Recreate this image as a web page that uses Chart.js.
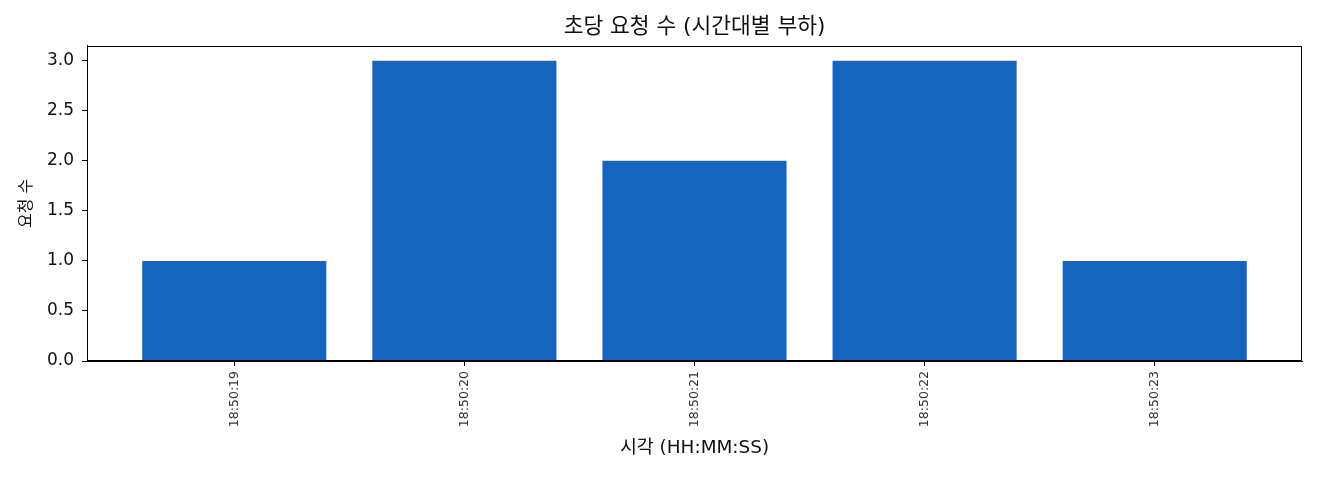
<!DOCTYPE html>
<html><head><meta charset="utf-8">
<script src="https://cdn.jsdelivr.net/npm/chart.js@4/dist/chart.umd.min.js"></script>
<style>html,body{margin:0;padding:0;background:#fff}#wrap{width:1320px;height:480px}</style>
</head><body><div id="wrap"><canvas id="c" width="1320" height="480"></canvas></div>
<script>
const categories = ["18:50:19", "18:50:20", "18:50:21", "18:50:22", "18:50:23"];
const requests = [1, 3, 2, 3, 1];
const yTicks = [0, 0.5, 1.0, 1.5, 2.0, 2.5, 3.0];

const FONT = "'DejaVu Sans', 'Noto Sans CJK KR', sans-serif";
const frame = {
  id: 'frame',
  afterDatasetsDraw(chart) {
    const a = chart.chartArea, ctx = chart.ctx;
    ctx.save();
    ctx.strokeStyle = '#000'; ctx.lineWidth = 1;
    ctx.strokeRect(Math.round(a.left) + 0.5, Math.round(a.top) + 0.5, Math.round(a.right - a.left) - 1, Math.round(a.bottom - a.top) - 1);
    ctx.restore();
  }
};
new Chart(document.getElementById('c'), {
  type: 'bar',
  data: {
    datasets: [{
      data: requests.map((v, i) => ({x: i, y: v})),
      backgroundColor: '#1565C0',
      borderWidth: 0,
      barPercentage: 0.8,
      categoryPercentage: 1.0
    }]
  },
  options: {
    responsive: false,
    animation: false,
    devicePixelRatio: 1,
    layout: {padding: {left: 0, right: 18, top: 0, bottom: 0}},
    plugins: {
      legend: {display: false},
      tooltip: {enabled: false},
      title: {display: true, fullSize: false, text: '초당 요청 수 (시간대별 부하)', color: '#111',
        font: {family: FONT, size: 21.5, weight: 'normal', lineHeight: 1.2}, padding: {top: 15, bottom: 5}}
    },
    scales: {
      x: {
        type: 'linear', min: -0.64, max: 4.64, offset: false,
        afterBuildTicks: s => { s.ticks = categories.map((c, i) => ({value: i})); },
        afterFit: s => { s.height = 119; },
        grid: {offset: false, drawOnChartArea: false, drawTicks: true, tickLength: 5, color: '#000'},
        border: {display: true, color: '#000'},
        ticks: {color: '#333', font: {family: FONT, size: 12.5}, minRotation: 90, maxRotation: 90, padding: 5,
          callback: v => categories[v]},
        title: {display: true, text: '시각 (HH:MM:SS)', color: '#111', font: {family: FONT, size: 18.4, lineHeight: 1.2}, padding: {top: 0, bottom: 21}}
      },
      y: {
        min: 0, max: 3.15,
        afterBuildTicks: s => { s.ticks = yTicks.map(v => ({value: v})); },
        afterFit: s => { s.width = 87; },
        grid: {drawOnChartArea: false, drawTicks: true, tickLength: 5, color: '#000'},
        border: {display: true, color: '#000'},
        ticks: {color: '#111', font: {family: FONT, size: 17}, padding: 8, callback: v => Number(v).toFixed(1)},
        title: {display: true, text: '요청 수', color: '#111', font: {family: FONT, size: 16, lineHeight: 1.2}, padding: {top: 17, bottom: 0}}
      }
    }
  },
  plugins: [frame]
});
</script></body></html>
